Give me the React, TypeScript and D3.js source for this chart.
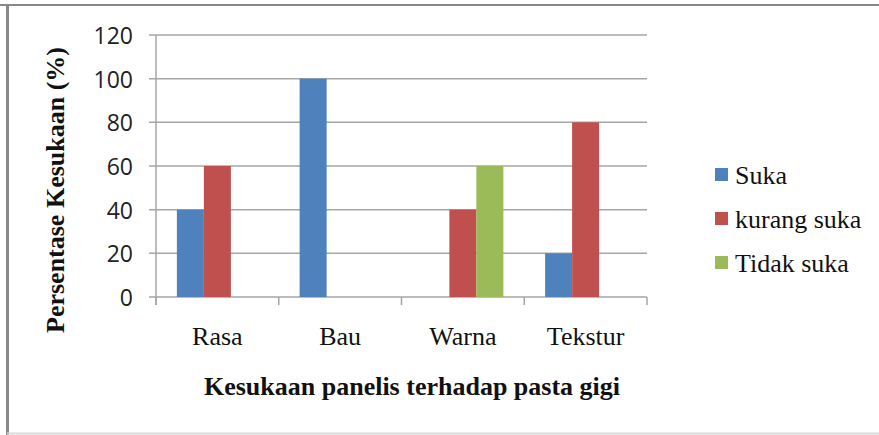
import * as d3 from "d3";

const categories = ["Rasa", "Bau", "Warna", "Tekstur"];
const seriesNames = ["Suka", "kurang suka", "Tidak suka"];
const suka = [40, 100, 0, 20];
const kurangSuka = [60, 0, 40, 80];
const tidakSuka = [0, 0, 60, 0];
const yTicks = [0, 20, 40, 60, 80, 100, 120];
const colors = ["#4F81BD", "#C0504D", "#9BBB59"];

const WIDTH = 879;
const HEIGHT = 435;
const PLOT = { left: 156, right: 647, top: 35, bottom: 297 };
const SERIF = "'Liberation Serif', 'Times New Roman', serif";

const App = () => {
  const seriesValues = [suka, kurangSuka, tidakSuka];

  const x0 = d3
    .scaleBand<string>()
    .domain(categories)
    .range([PLOT.left, PLOT.right])
    .padding(0);
  const bw = x0.bandwidth();
  const x1 = d3
    .scaleBand<string>()
    .domain(seriesNames)
    .range([bw * 0.17, bw * 0.83])
    .padding(0);
  const y = d3.scaleLinear().domain([0, 120]).range([PLOT.bottom, PLOT.top]);

  const gridColor = "#a6a6a6";
  const catEdges = [...categories.map((c) => x0(c)!), PLOT.right];

  return (
    <svg
      width={WIDTH}
      height={HEIGHT}
      style={{ position: "absolute", left: 0, top: 0, background: "white" }}
    >
      {/* frame */}
      <line x1={0} x2={WIDTH} y1={5} y2={5} stroke="#888" strokeWidth={2} />
      <line x1={7.5} x2={7.5} y1={4} y2={HEIGHT} stroke="#888" strokeWidth={3} />
      <line x1={7} x2={WIDTH} y1={433.5} y2={433.5} stroke="#d9d9d9" strokeWidth={2} />

      {/* gridlines + y ticks */}
      {yTicks.map((t) => (
        <g key={t}>
          <line
            x1={PLOT.left - 7}
            x2={PLOT.right}
            y1={y(t)}
            y2={y(t)}
            stroke={gridColor}
            strokeWidth={1.5}
          />
          <text
            x={133}
            y={y(t)}
            textAnchor="end"
            dominantBaseline="central"
            fontFamily="'Open Sans', 'Liberation Sans', sans-serif"
            fontSize={23}
            fill="#222"
          >
            {t}
          </text>
        </g>
      ))}

      {/* y axis line */}
      <line
        x1={PLOT.left}
        x2={PLOT.left}
        y1={PLOT.top}
        y2={PLOT.bottom + 8}
        stroke={gridColor}
        strokeWidth={1.5}
      />
      {/* category tick marks */}
      {catEdges.map((e, i) => (
        <line
          key={i}
          x1={e}
          x2={e}
          y1={PLOT.bottom}
          y2={PLOT.bottom + 8}
          stroke={gridColor}
          strokeWidth={1.5}
        />
      ))}

      {/* bars */}
      {categories.map((c, ci) => (
        <g key={c} transform={`translate(${x0(c)},0)`}>
          {seriesNames.map((s, si) => {
            const v = seriesValues[si][ci];
            if (!v) return null;
            return (
              <rect
                key={s}
                x={x1(s)}
                y={y(v)}
                width={x1.bandwidth()}
                height={PLOT.bottom - y(v)}
                fill={colors[si]}
              />
            );
          })}
        </g>
      ))}

      {/* category labels */}
      {categories.map((c) => (
        <text
          key={c}
          x={x0(c)! + bw / 2}
          y={345}
          textAnchor="middle"
          fontFamily={SERIF}
          fontSize={26}
          fill="#111"
        >
          {c}
        </text>
      ))}

      {/* x axis title */}
      <text
        x={412}
        y={395}
        textAnchor="middle"
        fontFamily={SERIF}
        fontWeight="bold"
        fontSize={26}
        fill="#111"
      >
        Kesukaan panelis terhadap pasta gigi
      </text>

      {/* y axis title */}
      <text
        transform={`translate(64, ${(43 + 337) / 2}) rotate(-90)`}
        textAnchor="middle"
        fontFamily={SERIF}
        fontWeight="bold"
        fontSize={26}
        fill="#111"
      >
        Persentase Kesukaan (%)
      </text>

      {/* legend */}
      {seriesNames.map((s, i) => (
        <g key={s} transform={`translate(715, ${184 + i * 44})`}>
          <rect x={0} y={-16} width={13} height={13} fill={colors[i]} />
          <text x={20} y={0} fontFamily={SERIF} fontSize={26} fill="#111">
            {s}
          </text>
        </g>
      ))}
    </svg>
  );
};

export default App;
